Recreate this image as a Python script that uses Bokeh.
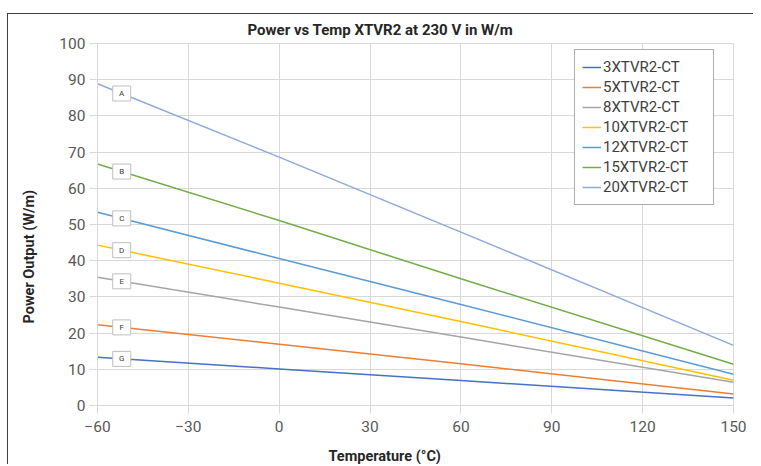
import numpy as np
from bokeh.plotting import figure
from bokeh.models import Range1d, FixedTicker, Legend, Title
from bokeh.core.properties import value
from bokeh.embed import file_html
from bokeh.resources import INLINE

# ---- data ----
temps = [-60, 0, 60, 150]
series_names = ["3XTVR2-CT", "5XTVR2-CT", "8XTVR2-CT", "10XTVR2-CT",
                "12XTVR2-CT", "15XTVR2-CT", "20XTVR2-CT"]
p3 = [13.3, 10.1, 6.9, 2.1]
p5 = [22.3, 16.9, 11.5, 3.2]
p8 = [35.4, 27.2, 18.9, 6.4]
p10 = [44.3, 33.8, 23.2, 7.0]
p12 = [53.4, 40.6, 27.9, 8.65]
p15 = [66.7, 51.1, 35.0, 11.4]
p20 = [88.9, 68.6, 47.9, 16.6]
series_values = [p3, p5, p8, p10, p12, p15, p20]
series_letters = ["G", "F", "E", "D", "C", "B", "A"]
letter_temp = -52
x_ticks = [-60, -30, 0, 30, 60, 90, 120, 150]
y_ticks = [0, 10, 20, 30, 40, 50, 60, 70, 80, 90, 100]

colors = ["#4472C4", "#ED7D31", "#A5A5A5", "#FFC000", "#5B9BD5", "#70AD47", "#8EA9DB"]

FONT = "Roboto"

p = figure(frame_width=636, frame_height=362, output_backend="svg", toolbar_location=None,
           title=None, x_range=Range1d(-60, 150), y_range=Range1d(0, 100),
           min_border_left=89, min_border_right=20, min_border_top=29, min_border_bottom=58)
p.styles = {"border-top": "1px solid #404040", "border-left": "1px solid #404040",
            "margin-top": "13px", "margin-left": "7px"}

p.background_fill_color = "white"
p.border_fill_color = "white"
p.outline_line_color = "#d9d9d9"

for ax in (p.xaxis[0], p.yaxis[0]):
    ax.axis_line_color = "#d9d9d9"
    ax.major_tick_line_color = "#d9d9d9"
    ax.major_tick_out = 8
    ax.major_tick_in = 0
    ax.minor_tick_line_color = None
    ax.major_label_text_font = FONT
    ax.major_label_text_font_size = "15.5px"
    ax.major_label_text_color = "#595959"
p.xaxis[0].ticker = FixedTicker(ticks=x_ticks)
p.yaxis[0].ticker = FixedTicker(ticks=y_ticks)
p.xaxis[0].major_label_standoff = 7
p.yaxis[0].major_label_standoff = 4
p.xaxis[0].major_label_overrides = {t: (("\u2212" + str(-t)) if t < 0 else str(t)) for t in x_ticks}

p.xgrid.ticker = FixedTicker(ticks=x_ticks)
p.ygrid.ticker = FixedTicker(ticks=y_ticks)
p.grid.grid_line_color = "#d9d9d9"
p.grid.grid_line_width = 1

items = []
for name, vals, c in zip(series_names, series_values, colors):
    r = p.line(temps, vals, line_color=c, line_width=1.5)
    items.append((name, [r]))

# letter tags on lines
lx = [letter_temp] * len(series_values)
ly = [float(np.interp(letter_temp, temps, v)) for v in series_values]
p.rect(x=lx, y=ly, width=18, height=15, width_units="screen", height_units="screen",
       fill_color="white", line_color="#bfbfbf", line_width=1)
p.text(x=lx, y=ly, text=series_letters, text_font=value(FONT), text_font_size="8px",
       text_color="#404040", text_align="center", text_baseline="middle")

legend = Legend(items=items, location=(477, 200))
legend.border_line_color = "#595959"
legend.border_line_width = 1.2
legend.background_fill_color = "white"
legend.background_fill_alpha = 1
legend.padding = 7
legend.spacing = 0
legend.label_height = 20
legend.glyph_height = 20
legend.glyph_width = 19
legend.label_standoff = 2
legend.label_width = 103
legend.label_text_font = FONT
legend.label_text_font_size = "15px"
legend.label_text_color = "#404040"
legend.margin = 0
p.add_layout(legend, "center")

# titles
t_top = Title(text="Power vs Temp XTVR2 at 230 V in W/m", align="left", offset=150,
              text_font=FONT, text_font_size="15px", text_font_style="bold",
              text_color="#262626", standoff=9)
p.add_layout(t_top, "above")

# spacers (blank) to push axis titles outward
p.add_layout(Title(text="\u00a0", text_font_size="7.5px", standoff=0), "below")
t_bottom = Title(text="Temperature (°C)", align="left", offset=231,
                 text_font=FONT, text_font_size="14.5px", text_font_style="bold",
                 text_color="#262626", standoff=0)
p.add_layout(t_bottom, "below")

p.add_layout(Title(text="\u00a0", text_font_size="15px", standoff=0), "left")
t_left = Title(text="Power Output (W/m)", align="left", offset=82,
               text_font=FONT, text_font_size="14.5px", text_font_style="bold",
               text_color="#262626", standoff=0)
p.add_layout(t_left, "left")

open("out.html", "w").write(file_html(p, INLINE))
